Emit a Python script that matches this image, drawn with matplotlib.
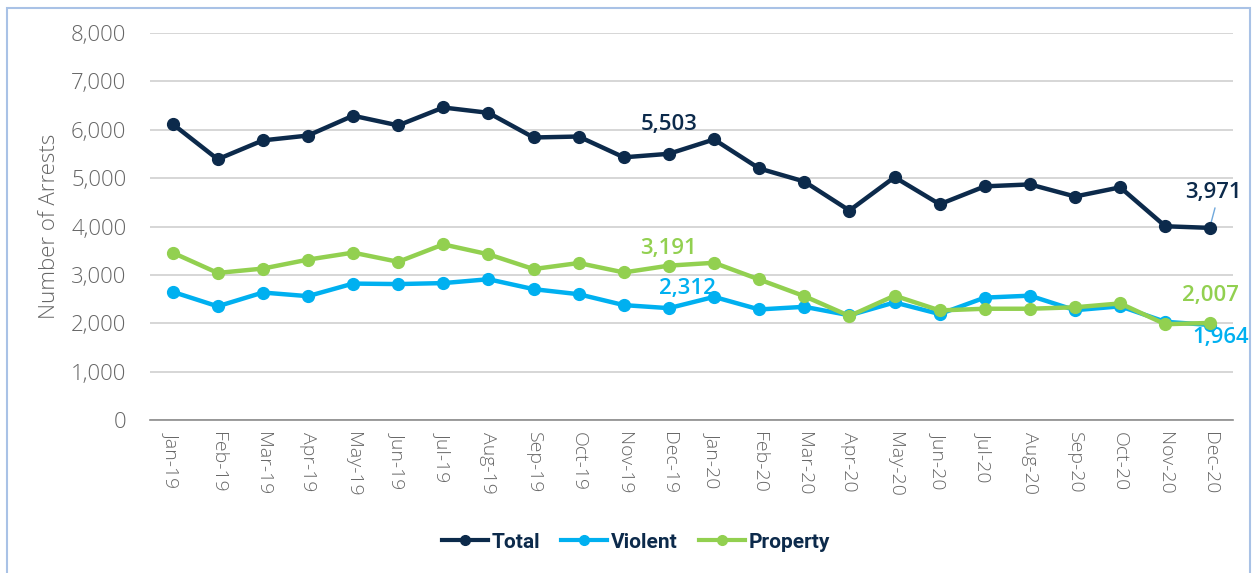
import matplotlib.pyplot as plt
from matplotlib.patches import Rectangle
from matplotlib.lines import Line2D

# Monthly arrests, Jan-19 .. Dec-20
months = ['Jan-19', 'Feb-19', 'Mar-19', 'Apr-19', 'May-19', 'Jun-19',
          'Jul-19', 'Aug-19', 'Sep-19', 'Oct-19', 'Nov-19', 'Dec-19',
          'Jan-20', 'Feb-20', 'Mar-20', 'Apr-20', 'May-20', 'Jun-20',
          'Jul-20', 'Aug-20', 'Sep-20', 'Oct-20', 'Nov-20', 'Dec-20']
total = [6120, 5390, 5780, 5880, 6290, 6090, 6460, 6350, 5840, 5860, 5430,
         5503, 5800, 5200, 4930, 4330, 5020, 4460, 4830, 4870, 4620, 4810,
         4005, 3971]
violent = [2650, 2350, 2635, 2560, 2820, 2810, 2830, 2910, 2705, 2600, 2375,
           2312, 2545, 2285, 2340, 2165, 2430, 2190, 2530, 2570, 2270, 2350,
           2030, 1964]
prop = [3460, 3040, 3130, 3315, 3460, 3270, 3630, 3425, 3120, 3245, 3050,
        3191, 3250, 2905, 2560, 2150, 2570, 2265, 2300, 2300, 2330, 2410,
        1980, 2007]

navy, blue, green = '#0c2a4b', '#00b0f0', '#92d050'
grey = '#666666'

fig = plt.figure(figsize=(12.57, 5.73), dpi=100)
fig.patches.append(Rectangle((7 / 1257, -0.1), 1243 / 1257, 1.1 - 8 / 573,
                             transform=fig.transFigure, fill=False,
                             edgecolor='#a9c2e6', linewidth=1.5))

ax = fig.add_axes([150 / 1257, 1 - 420 / 573, 1083 / 1257, 387 / 573])
x = range(len(months))
kw = dict(linewidth=3.2, marker='o', markersize=8.5, solid_joinstyle='round')
ax.plot(x, total, color=navy, label='Total', zorder=3, **kw)
ax.plot(x, violent, color=blue, label='Violent', zorder=3, **kw)
ax.plot(x, prop, color=green, label='Property', zorder=4, **kw)

ax.set_xlim(-0.5, len(months) - 0.5)
ax.set_ylim(0, 8000)
ax.set_yticks(range(0, 8001, 1000))
ax.set_yticklabels([f'{v:,}' for v in range(0, 8001, 1000)],
                   fontsize=16, color=grey, family='Open Sans',
                   fontweight='light')
ax.set_xticks(list(x))
ax.set_xticklabels(months, rotation=270, fontsize=14, color=grey,
                   family='Open Sans', fontweight='light')
ax.tick_params(length=0)
ax.tick_params(axis='y', pad=17)
ax.tick_params(axis='x', pad=9)
ax.grid(axis='y', color='#d0d0d0', linewidth=1.2)
ax.set_axisbelow(True)
for s in ['top', 'right', 'left']:
    ax.spines[s].set_visible(False)
ax.spines['bottom'].set_color('#8c8c8c')
ax.spines['bottom'].set_linewidth(1.2)
ax.set_ylabel('Number of Arrests', fontsize=16, color=grey,
              family='Open Sans', fontweight='light', labelpad=8)

# Data labels
lab = dict(fontsize=16, fontweight='semibold', family='Open Sans',
           ha='center', va='center')
ax.text(11, 6100, '5,503', color=navy, **lab)
ax.text(11, 3540, '3,191', color=green, **lab)
ax.text(11.42, 2710, '2,312', color=blue, **lab)
ax.text(23.07, 4710, '3,971', color=navy, **lab)
ax.plot([23.0, 23.1], [4030, 4380], color='#6fa8dc', linewidth=1)
ax.text(23.0, 2580, '2,007', color=green, **lab)
ax.text(23.23, 1710, '1,964', color=blue, **lab)

handles = [Line2D([], [], color=c, linewidth=3, marker='o', markersize=7)
           for c in (navy, blue, green)]
leg = fig.legend(handles, ['Total', 'Violent', 'Property'],
                 loc='center', bbox_to_anchor=(636 / 1257, 1 - 542 / 573),
                 ncol=3, frameon=False, handlelength=2.2, handletextpad=0.2,
                 columnspacing=1.0,
                 prop={'family': 'Roboto', 'weight': 'bold', 'size': 15})
for t in leg.get_texts():
    t.set_color(navy)

fig.savefig('out.png', dpi=100)
